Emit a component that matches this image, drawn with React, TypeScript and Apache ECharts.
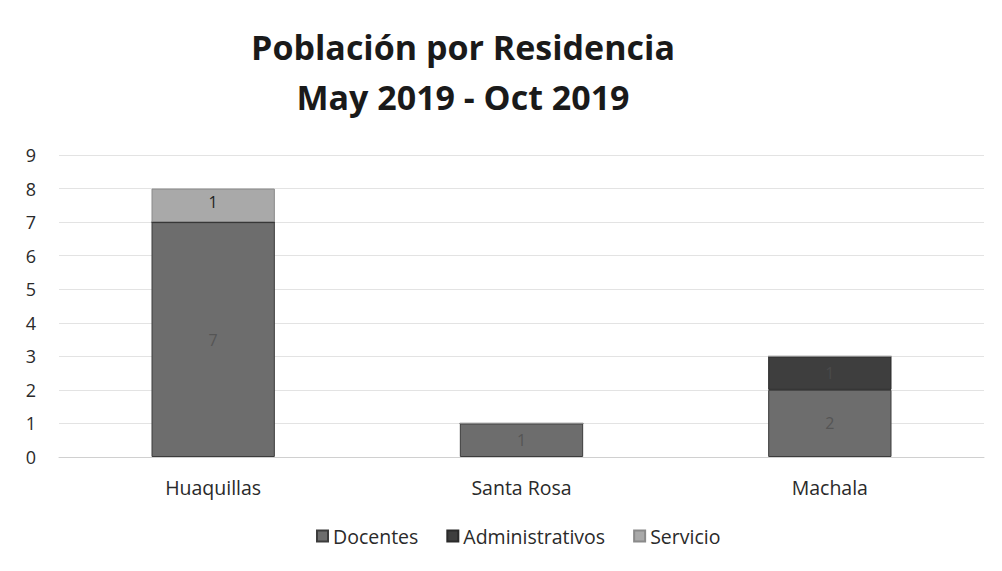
import React, { useEffect, useRef } from "react";
import * as echarts from "echarts";

const categories = ["Huaquillas", "Santa Rosa", "Machala"];
const docentes = [7, 1, 2];
const administrativos = [0, 0, 1];
const servicio = [1, 0, 0];
const yTicks = [0, 9, 1];
const titleLines = ["Población por Residencia", "May 2019 - Oct 2019"];

export default function App() {
  const ref = useRef<HTMLDivElement>(null);
  useEffect(() => {
    const chart = echarts.init(ref.current!, null, { renderer: "svg" });
    const font = "'Open Sans', sans-serif";
    const lbl = (color: string) => ({
      show: true,
      position: "inside" as const,
      color,
      fontSize: 16,
      fontFamily: font,
      formatter: (p: any) => (p.value ? String(p.value) : ""),
    });
    chart.setOption({
      animation: false,
      backgroundColor: "#ffffff",
      title: {
        text: titleLines.join("\n"),
        left: 458,
        textAlign: "center",
        top: 17,
        textStyle: {
          fontFamily: font,
          fontWeight: "bold",
          fontSize: 34,
          lineHeight: 50,
          color: "#1a1a1a",
        },
      },
      legend: {
        top: 521,
        left: 311,
        itemWidth: 11,
        itemHeight: 11,
        itemGap: 28,
        icon: "rect",
        textStyle: { fontFamily: font, fontSize: 19.5, color: "#2a2a2a" },
        data: ["Docentes", "Administrativos", "Servicio"],
      },
      grid: { left: 59, right: 18, top: 155, bottom: 114 },
      xAxis: {
        type: "category",
        data: categories,
        axisTick: { show: false },
        axisLine: { lineStyle: { color: "#d0d0d0" } },
        axisLabel: { fontFamily: font, fontSize: 19.5, color: "#2a2a2a", margin: 20 },
      },
      yAxis: {
        type: "value",
        min: yTicks[0],
        max: yTicks[1],
        interval: yTicks[2],
        axisLabel: { fontFamily: font, fontSize: 18, color: "#2a2a2a", margin: 23 },
        splitLine: { lineStyle: { color: "#e3e3e3" } },
      },
      series: [
        {
          name: "Docentes",
          type: "bar",
          stack: "a",
          barWidth: "40%",
          data: docentes,
          itemStyle: { color: "#6d6d6d", borderColor: "#3c3c3c", borderWidth: 1 },
          label: lbl("#555"),
        },
        {
          name: "Administrativos",
          type: "bar",
          stack: "a",
          data: administrativos,
          itemStyle: { color: "#3e3e3e", borderColor: "#2a2a2a", borderWidth: 1 },
          label: lbl("#4a4a4a"),
        },
        {
          name: "Servicio",
          type: "bar",
          stack: "a",
          data: servicio,
          itemStyle: { color: "#a9a9a9", borderColor: "#8a8a8a", borderWidth: 1 },
          label: { ...lbl("#222"), position: "insideTop", distance: 5 },
        },
      ],
    });
    return () => chart.dispose();
  }, []);
  return (
    <div
      ref={ref}
      style={{ position: "fixed", left: 0, top: 0, width: 1002, height: 571 }}
    />
  );
}
